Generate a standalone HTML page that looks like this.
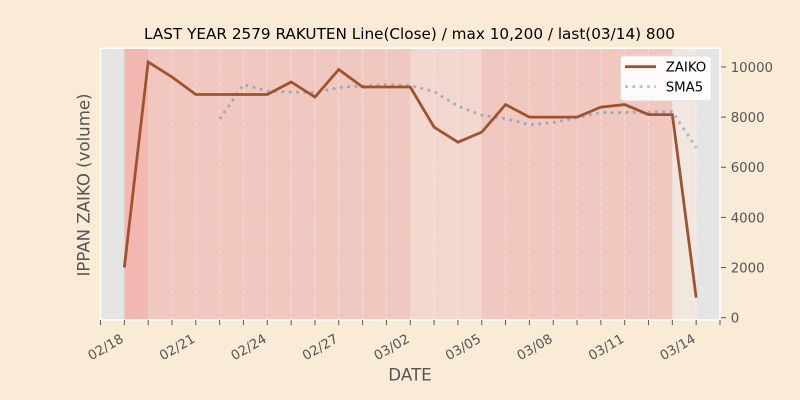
<!DOCTYPE html>
<html>
<head>
<meta charset="utf-8">
<style>
  html, body { margin:0; padding:0; background:#faebd7; }
  svg { display:block; }
  text { font-family: "DejaVu Sans", "Liberation Sans", sans-serif; }
</style>
</head>
<body>
<svg width="800" height="400" viewBox="0 0 800 400" xmlns="http://www.w3.org/2000/svg">
  <rect x="0" y="0" width="800" height="400" fill="#faebd7"/>

  <!-- axes background -->
  <rect x="100.5" y="48.3" width="619.5" height="271.7" fill="#e4e4e4"/>

  <!-- spans -->
  <rect x="124.33" y="48.3" width="23.82" height="271.7" fill="#f2b7b0"/>
  <rect x="148.15" y="48.3" width="262.1" height="271.7" fill="#f1c8c0"/>
  <rect x="410.25" y="48.3" width="71.48" height="271.7" fill="#f3d7cf"/>
  <rect x="481.73" y="48.3" width="190.62" height="271.7" fill="#f1c8c0"/>
  <rect x="672.35" y="48.3" width="23.83" height="271.7" fill="#f2e7de"/>

  <!-- daily dashed grid -->
  <g stroke="#ffffff" stroke-opacity="0.4" stroke-width="1" stroke-dasharray="4.5 2.2">
    <line x1="171.98" y1="48.3" x2="171.98" y2="320"/>
    <line x1="195.81" y1="48.3" x2="195.81" y2="320"/>
    <line x1="219.64" y1="48.3" x2="219.64" y2="320"/>
    <line x1="243.46" y1="48.3" x2="243.46" y2="320"/>
    <line x1="267.29" y1="48.3" x2="267.29" y2="320"/>
    <line x1="291.12" y1="48.3" x2="291.12" y2="320"/>
    <line x1="314.94" y1="48.3" x2="314.94" y2="320"/>
    <line x1="338.77" y1="48.3" x2="338.77" y2="320"/>
    <line x1="362.60" y1="48.3" x2="362.60" y2="320"/>
    <line x1="386.42" y1="48.3" x2="386.42" y2="320"/>
    <line x1="434.08" y1="48.3" x2="434.08" y2="320"/>
    <line x1="457.91" y1="48.3" x2="457.91" y2="320"/>
    <line x1="505.56" y1="48.3" x2="505.56" y2="320"/>
    <line x1="529.39" y1="48.3" x2="529.39" y2="320"/>
    <line x1="553.21" y1="48.3" x2="553.21" y2="320"/>
    <line x1="577.04" y1="48.3" x2="577.04" y2="320"/>
    <line x1="600.87" y1="48.3" x2="600.87" y2="320"/>
    <line x1="624.69" y1="48.3" x2="624.69" y2="320"/>
    <line x1="648.52" y1="48.3" x2="648.52" y2="320"/>
    <line x1="696.18" y1="48.3" x2="696.18" y2="320"/>
  </g>

  <!-- axes frame -->
  <rect x="100.5" y="48.3" width="619.5" height="271.7" fill="none" stroke="#ffffff" stroke-width="1.5"/>

  <!-- SMA5 -->
  <polyline fill="none" stroke="#1f77b4" stroke-opacity="0.4" stroke-width="2.78" stroke-dasharray="2.78 4.58"
    points="219.64,119.11 243.46,84.5 267.29,91.02 291.12,92.02 314.94,92.53 338.77,87.51 362.60,86.01 386.42,84.5 410.25,85.51 434.08,91.52 457.91,106.07 481.73,115.09 505.56,118.6 529.39,124.62 553.21,122.62 577.04,117.6 600.87,112.59 624.69,112.59 648.52,112.08 672.35,111.58 696.18,147.69"/>

  <!-- ZAIKO -->
  <polyline fill="none" stroke="#a0522d" stroke-width="2.78" stroke-linejoin="miter" stroke-linecap="butt"
    points="124.33,267.55 148.15,61.93 171.98,76.98 195.81,94.53 219.64,94.53 243.46,94.53 267.29,94.53 291.12,82.0 314.94,97.04 338.77,69.46 362.60,87.01 386.42,87.01 410.25,87.01 434.08,127.13 457.91,142.18 481.73,132.15 505.56,104.56 529.39,117.1 553.21,117.1 577.04,117.1 600.87,107.07 624.69,104.56 648.52,114.59 672.35,114.59 696.18,297.64"/>

  <!-- x ticks -->
  <g stroke="#555555" stroke-width="1">
    <line x1="100.5" y1="320" x2="100.5" y2="325"/>
    <line x1="124.33" y1="320" x2="124.33" y2="325"/>
    <line x1="148.15" y1="320" x2="148.15" y2="325"/>
    <line x1="171.98" y1="320" x2="171.98" y2="325"/>
    <line x1="195.81" y1="320" x2="195.81" y2="325"/>
    <line x1="219.64" y1="320" x2="219.64" y2="325"/>
    <line x1="243.46" y1="320" x2="243.46" y2="325"/>
    <line x1="267.29" y1="320" x2="267.29" y2="325"/>
    <line x1="291.12" y1="320" x2="291.12" y2="325"/>
    <line x1="314.94" y1="320" x2="314.94" y2="325"/>
    <line x1="338.77" y1="320" x2="338.77" y2="325"/>
    <line x1="362.60" y1="320" x2="362.60" y2="325"/>
    <line x1="386.42" y1="320" x2="386.42" y2="325"/>
    <line x1="410.25" y1="320" x2="410.25" y2="325"/>
    <line x1="434.08" y1="320" x2="434.08" y2="325"/>
    <line x1="457.91" y1="320" x2="457.91" y2="325"/>
    <line x1="481.73" y1="320" x2="481.73" y2="325"/>
    <line x1="505.56" y1="320" x2="505.56" y2="325"/>
    <line x1="529.39" y1="320" x2="529.39" y2="325"/>
    <line x1="553.21" y1="320" x2="553.21" y2="325"/>
    <line x1="577.04" y1="320" x2="577.04" y2="325"/>
    <line x1="600.87" y1="320" x2="600.87" y2="325"/>
    <line x1="624.69" y1="320" x2="624.69" y2="325"/>
    <line x1="648.52" y1="320" x2="648.52" y2="325"/>
    <line x1="672.35" y1="320" x2="672.35" y2="325"/>
    <line x1="696.18" y1="320" x2="696.18" y2="325"/>
    <line x1="720" y1="320" x2="720" y2="325"/>
  </g>

  <!-- x tick labels -->
  <g font-size="13.3" fill="#555555" text-anchor="end">
    <text transform="translate(124.5,341.4) rotate(-30)">02/18</text>
    <text transform="translate(196.0,341.4) rotate(-30)">02/21</text>
    <text transform="translate(267.5,341.4) rotate(-30)">02/24</text>
    <text transform="translate(339.0,341.4) rotate(-30)">02/27</text>
    <text transform="translate(410.4,341.4) rotate(-30)">03/02</text>
    <text transform="translate(481.9,341.4) rotate(-30)">03/05</text>
    <text transform="translate(553.4,341.4) rotate(-30)">03/08</text>
    <text transform="translate(624.9,341.4) rotate(-30)">03/11</text>
    <text transform="translate(696.4,341.4) rotate(-30)">03/14</text>
  </g>

  <!-- y ticks (right) -->
  <g stroke="#555555" stroke-width="1">
    <line x1="721" y1="317.7" x2="726" y2="317.7"/>
    <line x1="721" y1="267.55" x2="726" y2="267.55"/>
    <line x1="721" y1="217.4" x2="726" y2="217.4"/>
    <line x1="721" y1="167.25" x2="726" y2="167.25"/>
    <line x1="721" y1="117.1" x2="726" y2="117.1"/>
    <line x1="721" y1="66.95" x2="726" y2="66.95"/>
  </g>
  <g font-size="13.3" fill="#555555">
    <text x="730.7" y="322.55">0</text>
    <text x="730.7" y="272.4">2000</text>
    <text x="730.7" y="222.25">4000</text>
    <text x="730.7" y="172.1">6000</text>
    <text x="730.7" y="121.95">8000</text>
    <text x="730.7" y="71.8">10000</text>
  </g>

  <!-- axis labels -->
  <text x="410" y="380.5" font-size="16.7" fill="#555555" text-anchor="middle">DATE</text>
  <text transform="translate(89.3,185) rotate(-90)" font-size="16.7" fill="#555555" text-anchor="middle" textLength="183" lengthAdjust="spacingAndGlyphs">IPPAN ZAIKO (volume)</text>

  <!-- title -->
  <text x="144" y="39" font-size="14.7" fill="#000000" textLength="531" lengthAdjust="spacingAndGlyphs">LAST YEAR 2579 RAKUTEN Line(Close) / max 10,200 / last(03/14) 800</text>

  <!-- legend -->
  <rect x="620.7" y="56" width="90.5" height="44.7" rx="3" ry="3" fill="#ffffff" fill-opacity="0.9" stroke="#e2e2e2" stroke-width="1"/>
  <line x1="625" y1="66.7" x2="656" y2="66.7" stroke="#a0522d" stroke-width="2.78"/>
  <line x1="625" y1="86.7" x2="656" y2="86.7" stroke="#1f77b4" stroke-opacity="0.4" stroke-width="2.78" stroke-dasharray="2.78 4.58"/>
  <g font-size="13.3" fill="#000000">
    <text x="665.7" y="71.5">ZAIKO</text>
    <text x="665.7" y="91.5">SMA5</text>
  </g>
</svg>
</body>
</html>
